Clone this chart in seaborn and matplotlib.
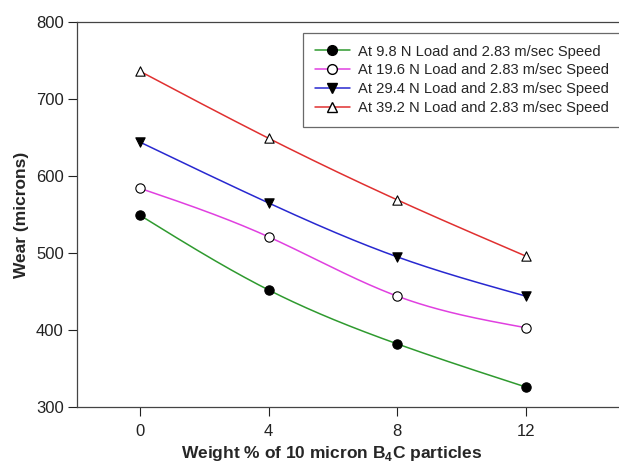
import numpy as np
import pandas as pd
import matplotlib
matplotlib.use("Agg")
import matplotlib.pyplot as plt
from matplotlib.lines import Line2D
import seaborn as sns

# Wear data
weight_pct = [0, 4, 8, 12]
wear_9_8 = [549, 452, 382, 326]
wear_19_6 = [584, 521, 444, 403]
wear_29_4 = [644, 565, 495, 444]
wear_39_2 = [736, 649, 569, 496]

labels = [
    "At 9.8 N Load and 2.83 m/sec Speed",
    "At 19.6 N Load and 2.83 m/sec Speed",
    "At 29.4 N Load and 2.83 m/sec Speed",
    "At 39.2 N Load and 2.83 m/sec Speed",
]
series = [wear_9_8, wear_19_6, wear_29_4, wear_39_2]
colors = ["#2f9a2f", "#e040e0", "#2828d0", "#e03030"]
markers = ["o", "o", "v", "^"]
facecolors = ["black", "white", "black", "white"]


def natural_spline(x, y, n=200):
    """Natural cubic spline through the points, for a smooth connecting curve."""
    x = np.asarray(x, float)
    y = np.asarray(y, float)
    k = len(x)
    h = np.diff(x)
    A = np.zeros((k, k))
    b = np.zeros(k)
    A[0, 0] = A[-1, -1] = 1
    for i in range(1, k - 1):
        A[i, i - 1] = h[i - 1]
        A[i, i] = 2 * (h[i - 1] + h[i])
        A[i, i + 1] = h[i]
        b[i] = 6 * ((y[i + 1] - y[i]) / h[i] - (y[i] - y[i - 1]) / h[i - 1])
    M = np.linalg.solve(A, b)
    xs = np.linspace(x[0], x[-1], n)
    ys = np.empty_like(xs)
    for j, xv in enumerate(xs):
        i = min(np.searchsorted(x, xv, side="right") - 1, k - 2)
        t1 = x[i + 1] - xv
        t2 = xv - x[i]
        ys[j] = (M[i] * t1**3 / (6 * h[i]) + M[i + 1] * t2**3 / (6 * h[i])
                 + (y[i] / h[i] - M[i] * h[i] / 6) * t1
                 + (y[i + 1] / h[i] - M[i + 1] * h[i] / 6) * t2)
    return xs, ys


sns.set_theme(style="ticks")
plt.rcParams["font.family"] = ["Liberation Sans", "DejaVu Sans"]
plt.rcParams["mathtext.fontset"] = "custom"
plt.rcParams["mathtext.rm"] = "Liberation Sans"
plt.rcParams["mathtext.bf"] = "Liberation Sans:bold"

fig = plt.figure(figsize=(6.19, 4.63), dpi=100)
ax = fig.add_axes([77 / 619, 56 / 463, 1 - 77 / 619, 385 / 463])

for lab, vals, c, m, fc in zip(labels, series, colors, markers, facecolors):
    xs, ys = natural_spline(weight_pct, vals)
    sns.lineplot(x=xs, y=ys, ax=ax, color=c, linewidth=1.1, zorder=2)
    df = pd.DataFrame({"x": weight_pct, "y": vals})
    sns.scatterplot(data=df, x="x", y="y", ax=ax, marker=m, s=45,
                    facecolor=fc, edgecolor="black", linewidth=0.8, zorder=3)

ax.set_xlim(-1.96, 14.9)
ax.set_ylim(300, 800)
ax.set_xticks(weight_pct)
ax.set_yticks([300, 400, 500, 600, 700, 800])
ax.tick_params(axis="both", direction="out", length=6.5, width=0.8,
               labelsize=12, colors="#222222")
ax.tick_params(axis="y", pad=3)
ax.tick_params(axis="x", pad=6)
for side in ["left", "bottom", "top"]:
    ax.spines[side].set_linewidth(0.9)
    ax.spines[side].set_color("#444444")
ax.spines["right"].set_visible(False)

ax.set_xlabel(r"Weight % of 10 micron B$_\mathbf{4}$C particles",
              fontsize=12.5, fontweight="bold")
ax.xaxis.set_label_coords((332 - 77) / 542, -37 / 385)
ax.set_ylabel("Wear (microns)", fontsize=12.5, fontweight="bold", labelpad=5)

handles = [
    Line2D([0], [0], color=c, marker=m, markerfacecolor=fc,
           markeredgecolor="black", markersize=7, linewidth=1.1)
    for c, m, fc in zip(colors, markers, facecolors)
]
leg = ax.legend(handles, labels, loc="upper left",
                bbox_to_anchor=((303 - 77) / 542, 1 - 11 / 385),
                fontsize=10.65, frameon=True, fancybox=False, handlelength=2.4,
                handletextpad=0.55, labelspacing=0.33, borderpad=0.78,
                borderaxespad=0)
leg.get_frame().set_edgecolor("#444444")
leg.get_frame().set_linewidth(0.9)

fig.savefig("out.png", dpi=100)
